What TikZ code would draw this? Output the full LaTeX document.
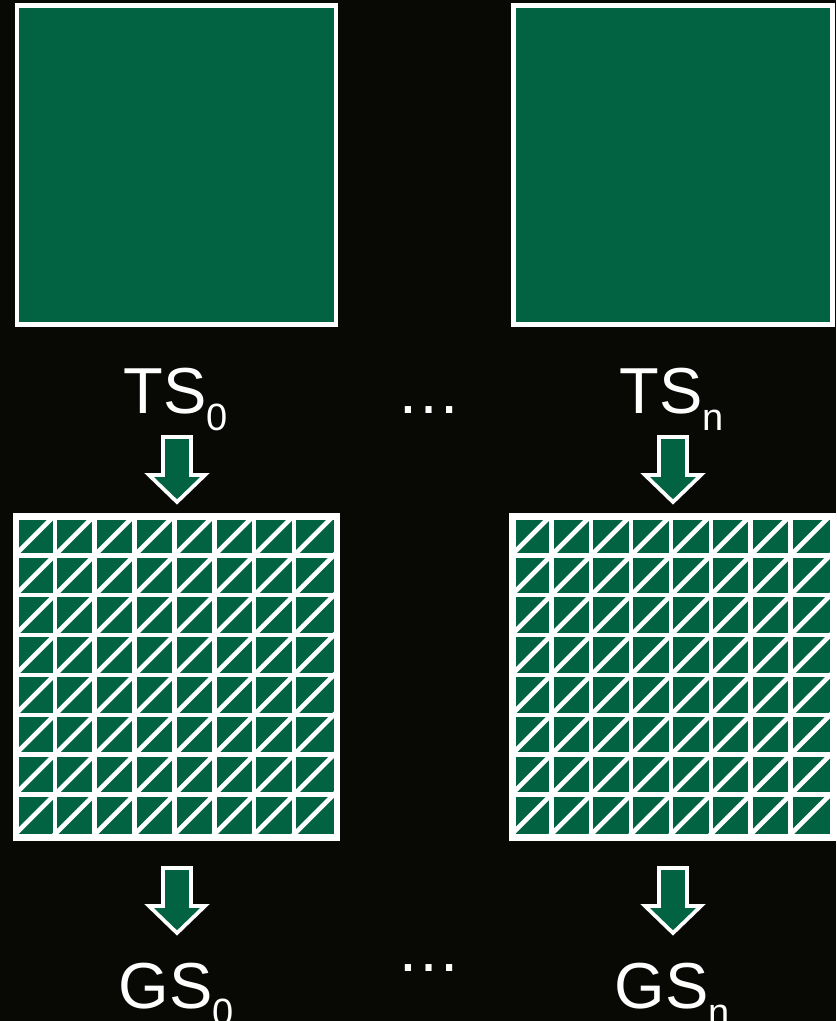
\documentclass[tikz,border=0pt]{standalone}
\usepackage{fontspec}
\setmainfont{Liberation Sans}
\usetikzlibrary{positioning}
\definecolor{tilegreen}{RGB}{2,99,66}
\definecolor{slidebg}{RGB}{8,8,4}
\newcommand{\lblsub}[1]{\raisebox{-12.75pt}{\fontsize{28.5}{30}\selectfont #1}}
\tikzset{tile/.style={rectangle,fill=tilegreen,draw=white,line width=3.4pt,minimum size=239pt,inner sep=0pt},
         meshline/.style={draw=white,line width=3.4pt},
         blockarrow/.style={fill=tilegreen,draw=white,line width=2.8pt,line join=miter},
         lbl/.style={text=white,anchor=base,inner sep=0pt,font=\fontsize{48.75}{50}\selectfont}
}

\begin{document}
\begin{tikzpicture}[x=0.75pt,y=-0.75pt]
\fill[slidebg] (0,0) rectangle (836,1021);
\useasboundingbox (0,0) rectangle (836,1021);
% plain tiles
\node [tile] (tex0) at (176.5,165) {};
\node [tile] (texn) at (673,165) {};
% meshed tiles
\node [tile] (mesh0) at (176.5,677) {};
\node [tile] (meshn) at (673,677) {};
\foreach \m in {mesh0,meshn}{
  \begin{scope}[shift={(\m.north west)}]
    \clip (0,0) rectangle (319,319);
    \foreach \k in {1,...,7}{
      \draw[meshline] (\k*39.875,0) -- (\k*39.875,319);
      \draw[meshline] (0,\k*39.875) -- (319,\k*39.875);
    }
    \foreach \k in {1,...,15}
      \draw[meshline] (\k*39.875,0) -- (0,\k*39.875);
  \end{scope}
  \draw[meshline] (\m.north west) rectangle (\m.south east);
}
% labels
\node [lbl] (ts0) at (176,413) {TS\lblsub{0}};
\node [lbl] (tsn) at (672,413) {TS\lblsub{n}};
\node [lbl] (dots1) at (429,413) {…};
\node [lbl] (gs0) at (176,1008) {GS\lblsub{0}};
\node [lbl] (gsn) at (672,1008) {GS\lblsub{n}};
\node [lbl] (dots2) at (429,971) {…};
% block arrows
\foreach \ax/\ay in {177/435,673/435,177/866,673/866}
  \draw[blockarrow] (\ax-14,\ay+2) -- (\ax+14,\ay+2) -- (\ax+14,\ay+40)
     -- (\ax+28,\ay+40) -- (\ax,\ay+67) -- (\ax-28,\ay+40) -- (\ax-14,\ay+40) -- cycle;
\end{tikzpicture}
\end{document}
